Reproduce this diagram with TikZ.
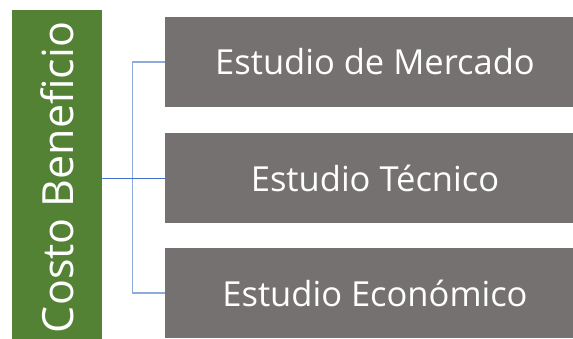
\documentclass[tikz,border=0pt]{standalone}
\usepackage{fontspec}
\setmainfont{Open Sans}
\usetikzlibrary{positioning,calc}
\definecolor{cbgreen}{HTML}{548235}
\definecolor{stgray}{HTML}{767171}
\definecolor{linkblue}{HTML}{4472C4}

\begin{document}
\begin{tikzpicture}[x=1pt, y=1pt,
			every node/.style={align=center, text=white, inner sep=0pt},
			headBox/.style={fill=cbgreen, minimum width=90pt, minimum height=329pt},
			studyBox/.style={fill=stgray, minimum width=420pt, minimum height=90pt, font=\fontsize{34.5}{38}\selectfont},
			link/.style={draw=linkblue!60, line width=1.1pt},
			mainlink/.style={draw=linkblue, line width=1.1pt}
		]
		\useasboundingbox (0,0) rectangle (573,339);

		% left title box
		\node[headBox] (CB) at (57,164.5) {};
		\node[rotate=90, font=\fontsize{43}{46}\selectfont] (CBtext) at ($(CB.center)+(0,-3)$) {Costo Beneficio};

		% study boxes (right side runs past the page edge)
		\node[studyBox] (S1) at (375,277) {Estudio de Mercado};
		\node[studyBox] (S2) at (375,160.5) {Estudio Técnico};
		\node[studyBox] (S3) at (375,46) {Estudio Económico};

		% connectors
		\coordinate (J) at ($(S2.west)+(-32,0)$);
		\draw[link] (J) |- (S1.west);
		\draw[link] (J) |- (S3.west);
		\draw[mainlink] (CB.east |- J) -- (J) -- (S2.west);
	\end{tikzpicture}
\end{document}
